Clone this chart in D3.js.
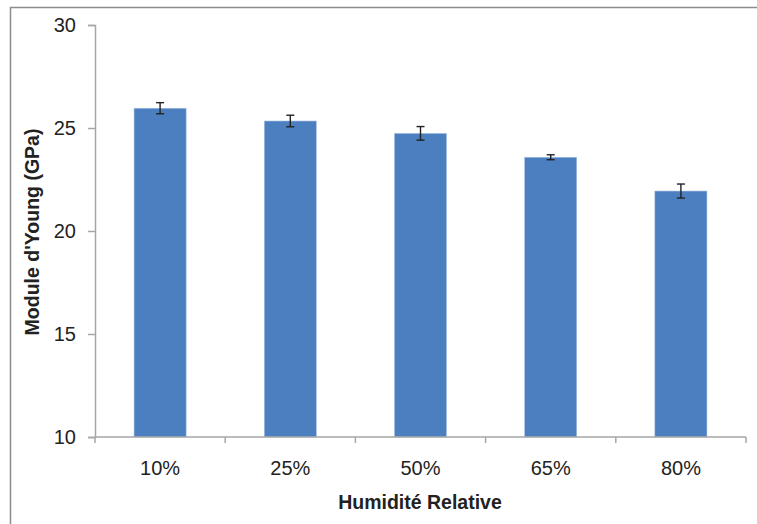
<!DOCTYPE html>
<html><head><meta charset="utf-8">
<script src="https://cdn.jsdelivr.net/npm/d3@7"></script>
<style>body{margin:0;background:#fff}svg{display:block}</style>
</head><body>
<script>
const categories = ["10%", "25%", "50%", "65%", "80%"];
const values = [25.96, 25.34, 24.74, 23.58, 21.94];
const errors = [0.27, 0.28, 0.33, 0.12, 0.34];
const yTicks = [10, 15, 20, 25, 30];

const W = 757, H = 524;
const svg = d3.select("body").append("svg").attr("width", W).attr("height", H);
const font = "'Liberation Sans', Arial, sans-serif";

svg.append("rect").attr("x", 10.5).attr("y", 7.5).attr("width", 800).attr("height", 600)
  .attr("fill", "none").attr("stroke", "#8c8c8c").attr("stroke-width", 1.5);

const m = {l: 95, r: 746, t: 25, b: 437};
const x = d3.scaleBand().domain(categories).range([m.l, m.r]).paddingInner(0.6).paddingOuter(0.3);
const y = d3.scaleLinear().domain([10, 30]).range([m.b, m.t]);

// bars
svg.selectAll("rect.bar").data(values).enter().append("rect")
  .attr("class", "bar")
  .attr("x", (d, i) => x(categories[i]))
  .attr("width", x.bandwidth())
  .attr("y", d => y(d))
  .attr("height", d => y(10) - y(d))
  .attr("fill", "#4b7fc0")
  .attr("stroke", "#a9c2e3").attr("stroke-width", 0.6);

// error bars
const eb = svg.append("g").attr("stroke", "#222").attr("stroke-width", 1.4);
values.forEach((v, i) => {
  const cx = x(categories[i]) + x.bandwidth() / 2;
  eb.append("line").attr("x1", cx).attr("x2", cx).attr("y1", y(v + errors[i])).attr("y2", y(v - errors[i]));
  [v + errors[i], v - errors[i]].forEach(e => {
    eb.append("line").attr("x1", cx - 4).attr("x2", cx + 4).attr("y1", y(e)).attr("y2", y(e));
  });
});

// y axis
const yAxis = d3.axisLeft(y).tickValues(yTicks).tickSize(7).tickPadding(12);
const gy = svg.append("g").attr("transform", `translate(${m.l},0)`).call(yAxis);
gy.select(".domain").attr("stroke", "#a6a6a6").attr("stroke-width", 1.5);
gy.selectAll(".tick line").attr("stroke", "#a6a6a6").attr("stroke-width", 1.5);
gy.selectAll(".tick text").attr("font-family", font).attr("font-size", 20).attr("fill", "#222");

// x axis
const xAxis = d3.axisBottom(x).tickSize(0);
const gx = svg.append("g").attr("transform", `translate(0,${m.b})`).call(xAxis);
gx.select(".domain").remove();
gx.append("line").attr("x1", m.l).attr("x2", m.r).attr("stroke", "#a6a6a6").attr("stroke-width", 1.5);
const bounds = d3.range(categories.length + 1);
gx.selectAll("line.sep").data(bounds).enter().append("line").attr("class", "sep")
  .attr("x1", i => m.l + i * (m.r - m.l) / categories.length)
  .attr("x2", i => m.l + i * (m.r - m.l) / categories.length)
  .attr("y1", 0).attr("y2", 6).attr("stroke", "#a6a6a6").attr("stroke-width", 1.5);
gx.selectAll(".tick text").attr("font-family", font).attr("font-size", 20).attr("fill", "#222")
  .attr("y", 38).attr("dy", 0);

// titles
svg.append("text").attr("x", 420).attr("y", 509).attr("text-anchor", "middle")
  .attr("font-family", font).attr("font-weight", "bold").attr("font-size", 19.5).attr("fill", "#222")
  .text("Humidité Relative");
svg.append("text").attr("transform", `translate(39,232) rotate(-90)`).attr("text-anchor", "middle")
  .attr("font-family", font).attr("font-weight", "bold").attr("font-size", 19.5).attr("fill", "#222")
  .text("Module d'Young (GPa)");
</script>
</body></html>
